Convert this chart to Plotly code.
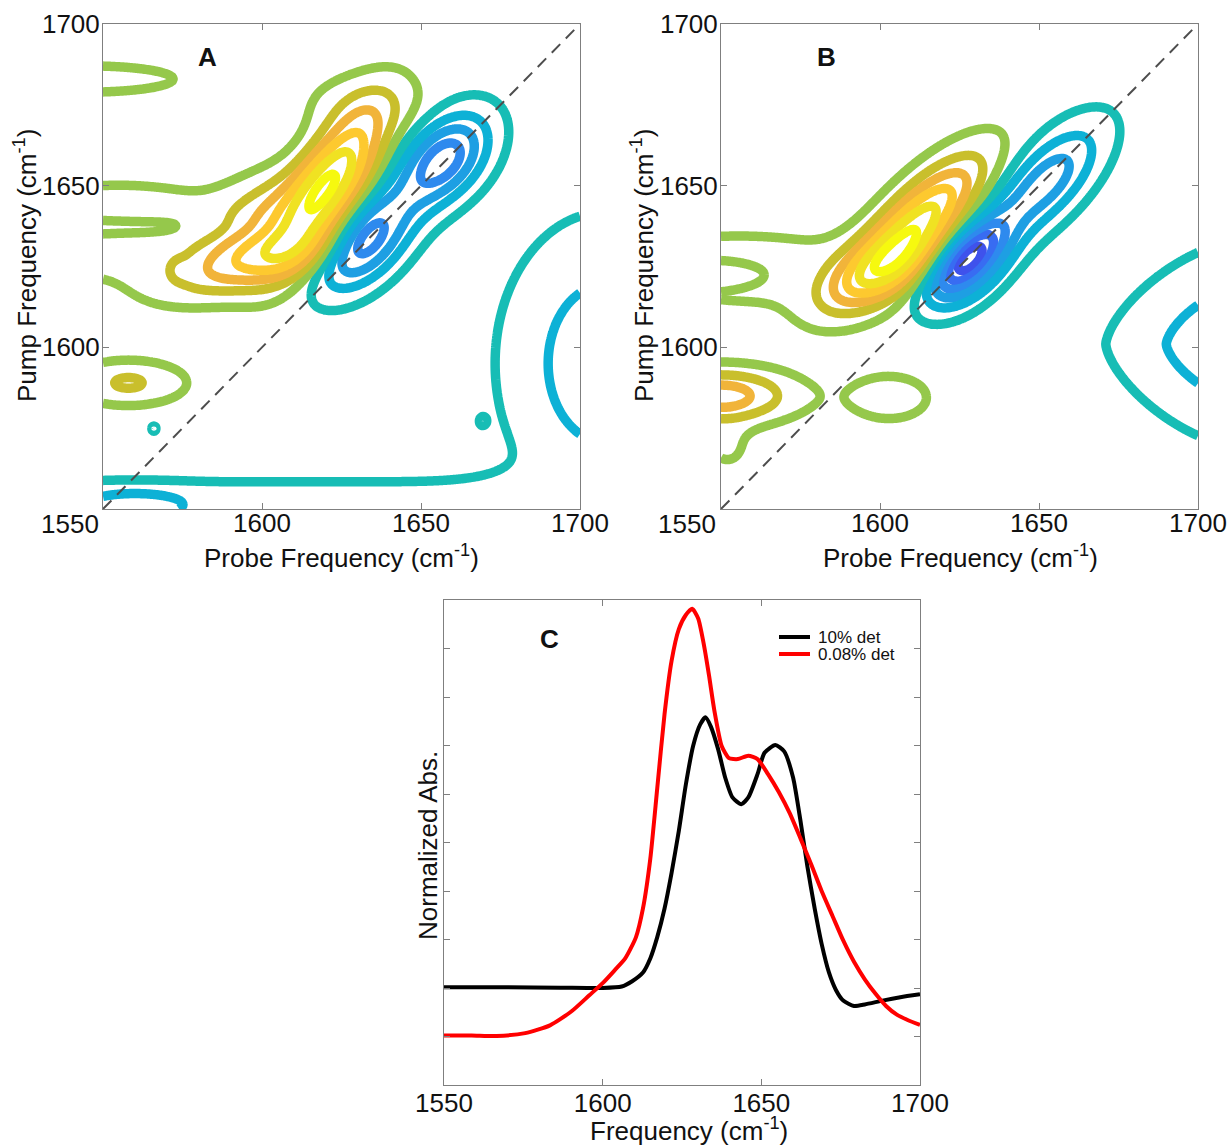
import numpy as np
import plotly.graph_objects as go

FIG_W, FIG_H = 1228, 1145
FONT = "Liberation Sans, Arial, sans-serif"

# ---------------------------------------------------------------------------
# Panel C: linear absorption spectra (normalized)
# ---------------------------------------------------------------------------
freq_10pct = [1550.0, 1569.9, 1586.8, 1600.0, 1606.0, 1609.3, 1612.7, 1615.0, 1617.2, 1619.5,
              1621.7, 1624.0, 1626.2, 1628.5, 1630.7, 1632.4, 1634.1, 1636.4, 1638.6, 1640.9,
              1643.7, 1645.9, 1648.8, 1651.0, 1654.4, 1657.2, 1660.0, 1662.3, 1664.5, 1666.8,
              1669.0, 1671.3, 1673.5, 1675.8, 1679.2, 1682.6, 1688.2, 1693.8, 1700.0]
abs_10pct = [0.2015, 0.2015, 0.2007, 0.200, 0.203, 0.214, 0.232, 0.261, 0.305, 0.364,
             0.437, 0.524, 0.619, 0.699, 0.743, 0.758, 0.739, 0.692, 0.634, 0.593,
             0.579, 0.593, 0.641, 0.685, 0.701, 0.688, 0.634, 0.546, 0.451, 0.364,
             0.291, 0.232, 0.196, 0.174, 0.163, 0.166, 0.174, 0.181, 0.187]

freq_008pct = [1550.0, 1558.7, 1566.6, 1575.6, 1583.4, 1590.2, 1595.8, 1600.0, 1603.7, 1607.1,
               1610.5, 1612.7, 1615.0, 1617.2, 1619.5, 1621.7, 1624.0, 1626.2, 1628.2, 1630.1,
               1631.8, 1633.5, 1635.2, 1637.5, 1639.8, 1642.6, 1645.9, 1648.8, 1652.1, 1655.5,
               1658.9, 1662.3, 1665.7, 1669.0, 1672.4, 1675.8, 1679.2, 1682.6, 1686.0, 1689.3,
               1692.7, 1696.1, 1700.0]
abs_008pct = [0.102, 0.102, 0.101, 0.107, 0.123, 0.152, 0.185, 0.210, 0.236, 0.261,
              0.305, 0.364, 0.466, 0.612, 0.765, 0.874, 0.940, 0.969, 0.982, 0.962,
              0.911, 0.845, 0.772, 0.699, 0.674, 0.672, 0.679, 0.672, 0.641, 0.604,
              0.561, 0.509, 0.455, 0.400, 0.349, 0.298, 0.254, 0.218, 0.188, 0.163,
              0.145, 0.134, 0.124]

SPECTRA_NAMES = ["10% det", "0.08% det"]
SPECTRA_COLORS = ["#000000", "#ff0000"]

# ---------------------------------------------------------------------------
# Panels A/B: 2D IR spectra described as sums of peak components
# (probe centre, pump centre, tilt [deg], major width, minor width, amplitude, shape exponent)
# ---------------------------------------------------------------------------
A_probe = [1621, 1598, 1600, 1555, 1550, 1632, 1545, 1558, 1632, 1657, 1625, 1560, 1708,
           1566, 1669, 1574]
A_pump = [1650, 1627, 1642, 1636, 1637, 1675, 1683, 1589, 1633, 1658, 1553, 1551, 1595,
          1575, 1577, 1624]
A_tilt = [57, 15, 35, 0, 0, 0, 0, 0, 45, 45, 0, 0, 0,
          90, 90, 0]
A_wmaj = [18, 18, 12, 35, 30, 14, 30, 12, 13, 12, 400, 12, 20,
          2.6, 2.6, 2]
A_wmin = [7, 6, 7, 12, 3, 7, 4.5, 4.6, 7.5, 7.5, 6, 3, 27,
          2, 2, 2]
A_amp = [1.1, 0.55, 0.3, 0.20, -0.12, 0.15, 0.15, 0.32, -0.85, -0.80, -0.15, -0.35, -0.45,
         -0.108, -0.052, 0.12]
A_expo = [2] * 16

B_probe = [1613, 1600, 1555, 1550, 1550, 1552, 1603, 1627, 1652, 1712]
B_pump = [1639, 1624, 1624, 1623, 1585, 1569, 1584.5, 1627, 1651, 1601]
B_tilt = [45, 30, 0, 0, 0, 0, 0, 45, 45, 0]
B_wmaj = [18, 14, 35, 15, 15, 6, 12, 11, 16, 17.4]
B_wmin = [7, 6, 9, 4, 5.5, 6, 6.7, 6.5, 7, 13.5]
B_amp = [0.92, 0.55, 0.20, -0.14, 0.6, 0.12, 0.16, -1.2, -0.6, -0.61]
B_expo = [2, 2, 2, 2, 2, 2, 2, 2, 2, 1.5]

# contour levels and the colour of each level (dark blue -> yellow)
LEVEL_START, LEVEL_END, LEVEL_STEP = -1.1, 1.1, 0.2
LEVEL_COLORS = ["#3F52EC", "#386CF2", "#2E8AEE", "#1E9FE3", "#0DB1D6", "#17BDB5",
                "#95C84B", "#C9BF2C", "#F1B43A", "#FDC92F", "#F0E222", "#F6F90F"]

FREQ_RANGE = [1550, 1700]
FREQ_TICKS = [1550, 1600, 1650, 1700]
FREQ_TICK_TEXT = ["", "1600", "1650", "1700"]
DIAGONAL = [1550, 1700]

grid = np.arange(FREQ_RANGE[0], FREQ_RANGE[1] + 0.25, 0.5)


def surface(probe, pump, tilt, wmaj, wmin, amp, expo):
    X, Y = np.meshgrid(grid, grid)
    Z = np.zeros_like(X)
    for x0, y0, t, a, b, h, p in zip(probe, pump, tilt, wmaj, wmin, amp, expo):
        th = np.deg2rad(t)
        dx, dy = X - x0, Y - y0
        u = dx * np.cos(th) + dy * np.sin(th)
        v = -dx * np.sin(th) + dy * np.cos(th)
        Z += h * np.exp(-0.5 * (np.abs(u / a) ** p + np.abs(v / b) ** p))
    return Z


n = len(LEVEL_COLORS)
colorscale = [[i / (n - 1), c] for i, c in enumerate(LEVEL_COLORS)]


def contour_trace(Z, xa, ya):
    return go.Contour(
        x=grid, y=grid, z=Z, xaxis=xa, yaxis=ya,
        colorscale=colorscale, showscale=False, hoverinfo="skip",
        contours=dict(start=LEVEL_START, end=LEVEL_END, size=LEVEL_STEP,
                      coloring="lines", showlabels=False),
        line=dict(width=9.5, smoothing=1.0),
        showlegend=False,
    )


def diagonal_trace(xa, ya):
    return go.Scatter(x=DIAGONAL, y=DIAGONAL, xaxis=xa, yaxis=ya, mode="lines",
                      line=dict(color="#4d4d4d", width=2, dash="12px,8px"),
                      hoverinfo="skip", showlegend=False)


fig = go.Figure()
fig.add_trace(contour_trace(surface(A_probe, A_pump, A_tilt, A_wmaj, A_wmin, A_amp, A_expo), "x", "y"))
fig.add_trace(diagonal_trace("x", "y"))
fig.add_trace(contour_trace(surface(B_probe, B_pump, B_tilt, B_wmaj, B_wmin, B_amp, B_expo), "x2", "y2"))
fig.add_trace(diagonal_trace("x2", "y2"))

for xs, ys, name, color in zip([freq_10pct, freq_008pct], [abs_10pct, abs_008pct],
                               SPECTRA_NAMES, SPECTRA_COLORS):
    fig.add_trace(go.Scatter(x=xs, y=ys, xaxis="x3", yaxis="y3", mode="lines", name=name,
                             line=dict(color=color, width=4, shape="spline", smoothing=0.6),
                             showlegend=False))


def px(x):
    return x / FIG_W


def py(y):
    return 1 - y / FIG_H


def frame_axis(domain, **kw):
    d = dict(domain=domain, showline=True, linecolor="#7f7f7f", linewidth=1, mirror="allticks",
             ticks="inside", ticklen=6, tickwidth=1, tickcolor="#7f7f7f",
             showgrid=False, zeroline=False, automargin=False,
             tickfont=dict(family=FONT, size=26, color="#111111"))
    d.update(kw)
    return d


freq_axis = dict(range=FREQ_RANGE, tickmode="array", tickvals=FREQ_TICKS)

fig.update_layout(
    width=FIG_W, height=FIG_H, autosize=False,
    margin=dict(l=0, r=0, t=0, b=0, autoexpand=False),
    paper_bgcolor="white", plot_bgcolor="white",
    xaxis=frame_axis([px(103), px(580)], anchor="y", ticktext=FREQ_TICK_TEXT,
                     ticklabelstandoff=-9, **freq_axis),
    yaxis=frame_axis([py(509), py(24)], anchor="x", ticktext=FREQ_TICK_TEXT,
                     ticklabelstandoff=-3, **freq_axis),
    xaxis2=frame_axis([px(721), px(1198)], anchor="y2", ticktext=FREQ_TICK_TEXT,
                      ticklabelstandoff=-9, **freq_axis),
    yaxis2=frame_axis([py(509), py(24)], anchor="x2", ticktext=FREQ_TICK_TEXT,
                      ticklabelstandoff=-3, **freq_axis),
    xaxis3=frame_axis([px(444), px(920)], anchor="y3", ticktext=[str(v) for v in FREQ_TICKS],
                      ticklabelstandoff=-5, **freq_axis),
    yaxis3=frame_axis([py(1085), py(600)], anchor="x3", range=[0, 1], tickmode="linear",
                      tick0=0, dtick=0.1, showticklabels=False),
    font=dict(family=FONT, color="#111111"),
)


def text(s, x, y, size=26, bold=False, angle=0, xanchor="center"):
    fig.add_annotation(text=f"<b>{s}</b>" if bold else s, x=px(x), y=py(y),
                       xref="paper", yref="paper", showarrow=False, textangle=angle,
                       xanchor=xanchor, yanchor="middle",
                       font=dict(family=FONT, size=size, color="#111111"))


# panel letters
text("A", 207, 57, bold=True)
text("B", 826, 57, bold=True)
text("C", 549, 639, bold=True)

# shared corner tick label of the 2D panels
text("1550", 101, 524, xanchor="right")
text("1550", 718, 524, xanchor="right")

# axis titles
text("Probe Frequency (cm<sup>-1</sup>)", 341, 556)
text("Probe Frequency (cm<sup>-1</sup>)", 960, 556)
text("Pump Frequency (cm<sup>-1</sup>)", 25, 266, angle=-90)
text("Pump Frequency (cm<sup>-1</sup>)", 642, 266, angle=-90)
text("Frequency (cm<sup>-1</sup>)", 689, 1129)
text("Normalized Abs.", 428, 846, angle=-90)

# key for panel C: short line sample followed by its label
for i, (name, color) in enumerate(zip(SPECTRA_NAMES, SPECTRA_COLORS)):
    y_row = 637 + 17 * i
    fig.add_shape(type="line", xref="paper", yref="paper",
                  x0=px(779), x1=px(810), y0=py(y_row), y1=py(y_row),
                  line=dict(color=color, width=4))
    text(name, 816, y_row, size=17, xanchor="left")

fig.write_html("out.html")
